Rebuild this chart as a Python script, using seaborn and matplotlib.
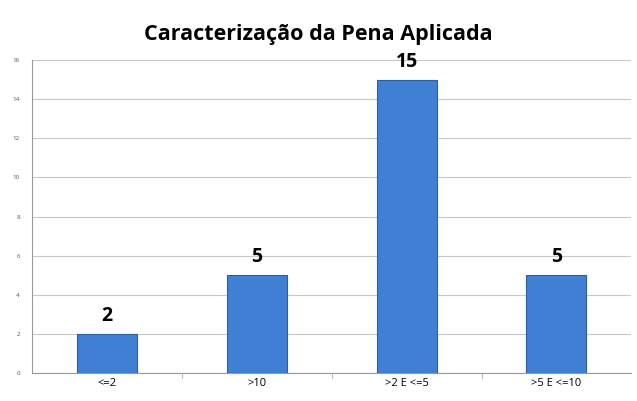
import matplotlib
matplotlib.use("Agg")
import matplotlib.pyplot as plt
import pandas as pd
import seaborn as sns

categorias = ["<=2", ">10", ">2 E <=5", ">5 E <=10"]
valores = [2, 5, 15, 5]
titulo = "Caracterização da Pena Aplicada"
yticks = [0, 2, 4, 6, 8, 10, 12, 14, 16]

df = pd.DataFrame({"pena": categorias, "qtd": valores})

sns.set_style("white")
plt.rcParams['font.family'] = ['Open Sans', 'DejaVu Sans']

fig = plt.figure(figsize=(6.37, 4.01), dpi=100)
ax = fig.add_axes([0.051, 0.07, 0.94, 0.78])

sns.barplot(data=df, x="pena", y="qtd", color="#3f7fd4", width=0.4,
            edgecolor="#2d5f9e", linewidth=0.8, saturation=1, ax=ax, zorder=3)

# rótulos em cima das barras
for i, v in enumerate(valores):
    ax.text(i, v + 0.4, str(v), ha="center", va="bottom",
            fontsize=14, fontweight="bold", color="black")

ax.set_ylim(0, 16)
ax.set_yticks(yticks)
ax.set_yticklabels([str(t) for t in yticks], fontsize=4.5, color="#555555")
ax.yaxis.grid(True, color="#c8c8c8", linewidth=0.8, zorder=0)
ax.set_xlim(-0.5, 3.5)
ax.tick_params(axis="x", labelsize=8, colors="black", length=0, pad=4)
ax.tick_params(axis="y", length=3, color="#999999", pad=6)
for sp in ["top", "right"]:
    ax.spines[sp].set_visible(False)
ax.spines["left"].set_color("#999999")
ax.spines["bottom"].set_color("#999999")

# marcas entre categorias no eixo x
for b in [0.5, 1.5, 2.5]:
    ax.plot([b, b], [0, -0.25], color="#bbbbbb", lw=0.8, clip_on=False)

ax.set_xlabel("")
ax.set_ylabel("")
fig.text(0.5, 0.913, titulo, ha="center", va="center",
         fontsize=15.5, fontweight="bold", color="black")

plt.savefig("out.png", dpi=100)
